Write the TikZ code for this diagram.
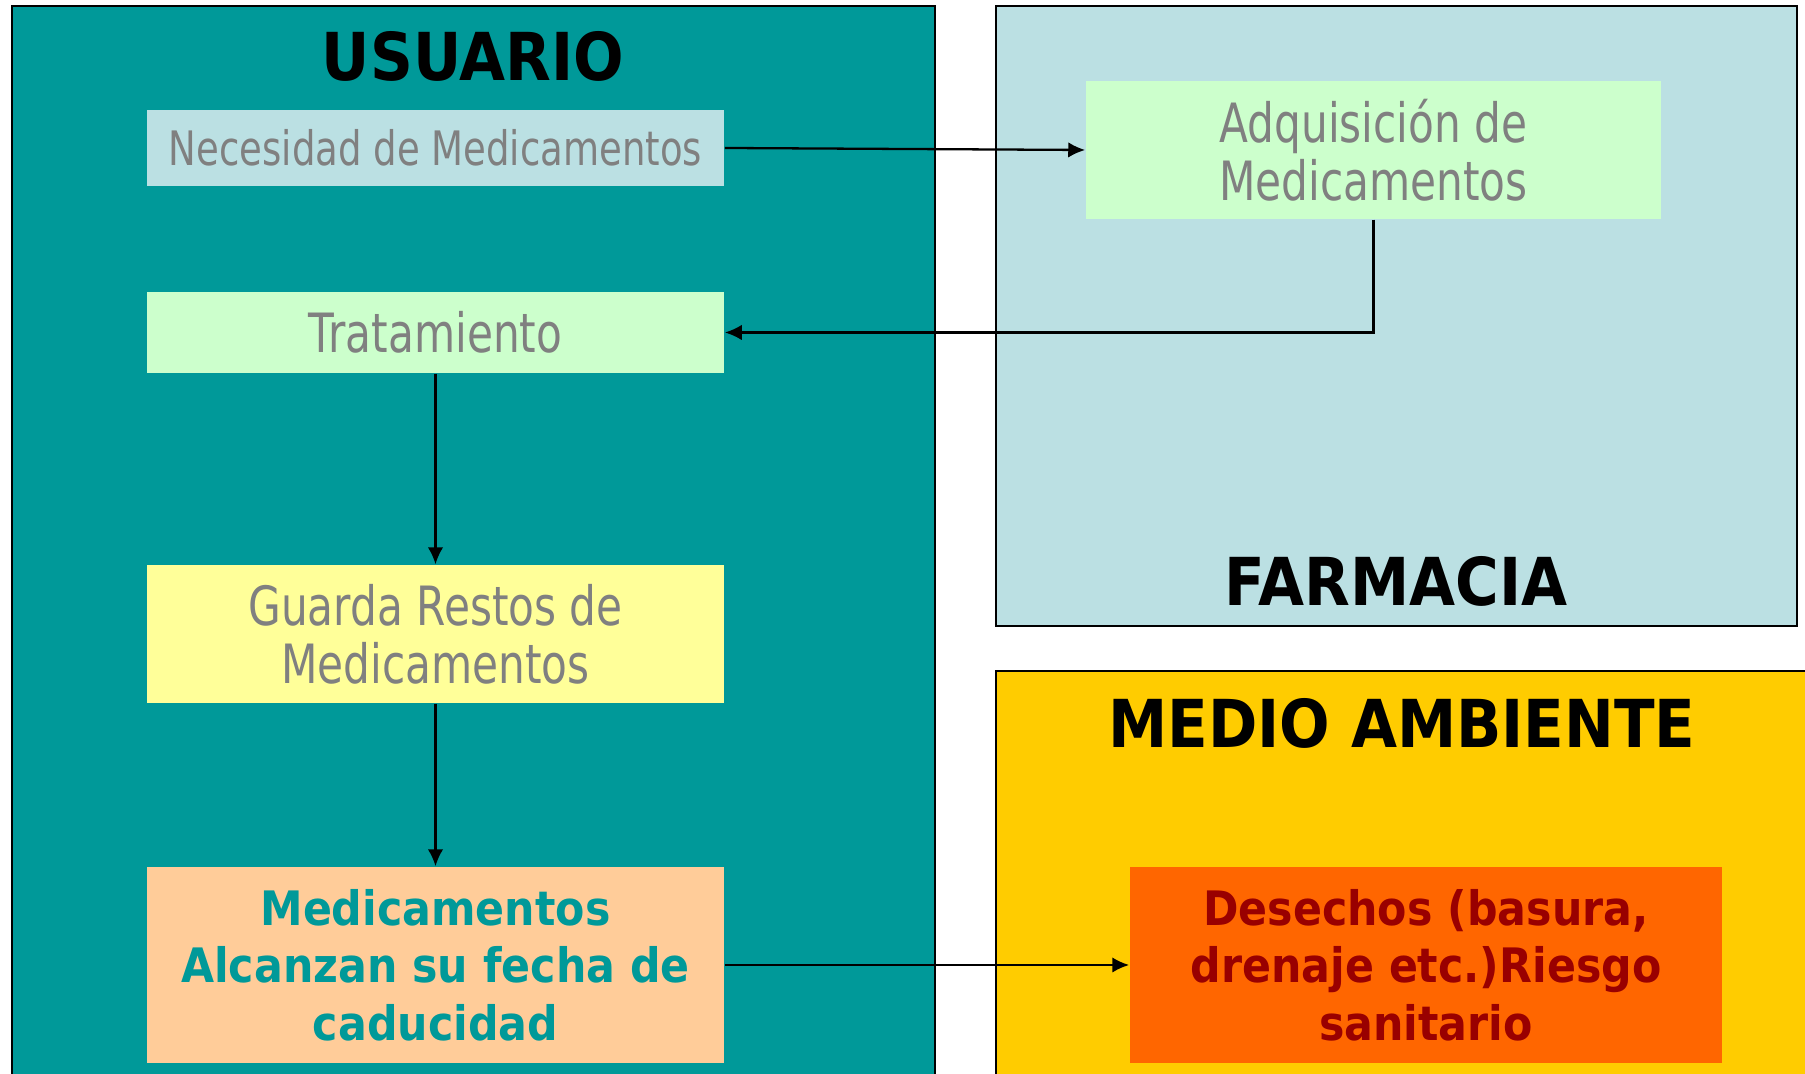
\documentclass[tikz,border=0pt]{standalone}
\usepackage{fontspec}
\setmainfont{DejaVu Sans}[FakeStretch=0.78]
\newfontfamily\heavyfont{DejaVu Sans}[FakeStretch=0.9]
\usepackage{tikz}
\usetikzlibrary{arrows.meta}
\definecolor{usuario}{HTML}{009999}
\definecolor{farmacia}{HTML}{BBE0E3}
\definecolor{ambiente}{HTML}{FFCC00}
\definecolor{verdecl}{HTML}{CCFFCC}
\definecolor{amarillo}{HTML}{FFFF99}
\definecolor{durazno}{HTML}{FFCC99}
\definecolor{naranja}{HTML}{FF6600}
\definecolor{rojo}{HTML}{990000}
\definecolor{gris}{HTML}{808080}

\begin{document}
\begin{tikzpicture}[x=0.01cm,y=-0.01cm,
    caja/.style={inner sep=0pt,align=center,minimum width=5.77cm,text=gris,font=\fontsize{15.4}{16.4}\selectfont},
    negrita/.style={caja,font=\heavyfont\bfseries\fontsize{13.5}{16.4}\selectfont},
    titulo/.style={font=\heavyfont\bfseries\fontsize{18.8}{22}\selectfont},
    panel/.style={draw=black,line width=0.7pt},
    flecha/.style={-{Latex[length=4.8pt,width=4.4pt]},line width=0.65pt}]
            \useasboundingbox (0,0) rectangle (1805,1074);
            \clip (0,0) rectangle (1805,1074);
            \draw[panel,fill=usuario](12,6) rectangle (935,1090);
            \draw[panel,fill=farmacia](996,6) rectangle (1797,626);
            \draw[panel,fill=ambiente](996,671) rectangle (1815,1090);

            \node[titulo] (usu) at (473,56){USUARIO};
            \node[titulo] (far) at (1396,581){FARMACIA};
            \node[titulo] (amb) at (1402,723){MEDIO AMBIENTE};

            \node[caja,fill=farmacia,minimum height=0.75cm,font=\fontsize{13.5}{16.4}\selectfont] (nec) at (435.5,148){Necesidad de Medicamentos};
            \node[caja,fill=verdecl,minimum width=5.75cm,minimum height=1.38cm] (adq) at (1373.5,150){Adquisición de\\Medicamentos};
            \node[caja,fill=verdecl,minimum height=0.81cm] (trat) at (435.5,332.5){Tratamiento};
            \node[caja,fill=amarillo,minimum height=1.38cm] (guarda) at (435.5,634){Guarda Restos de\\Medicamentos};
            \node[negrita,fill=durazno,text=usuario,minimum height=1.96cm] (cad) at (435.5,965){Medicamentos\\Alcanzan su fecha de\\caducidad};
            \node[negrita,fill=naranja,text=rojo,minimum width=5.92cm,minimum height=1.96cm] (des) at (1426,965){Desechos (basura,\\drenaje etc.)Riesgo\\sanitario};

            \draw[flecha](nec.east) -- (adq.west);
            \draw[flecha](adq.south) |- (trat.east);
            \draw[flecha](trat.south) -- (guarda.north);
            \draw[flecha](guarda.south) -- (cad.north);
            \draw[flecha](cad.east) -- (des.west);
        \end{tikzpicture}
\end{document}
